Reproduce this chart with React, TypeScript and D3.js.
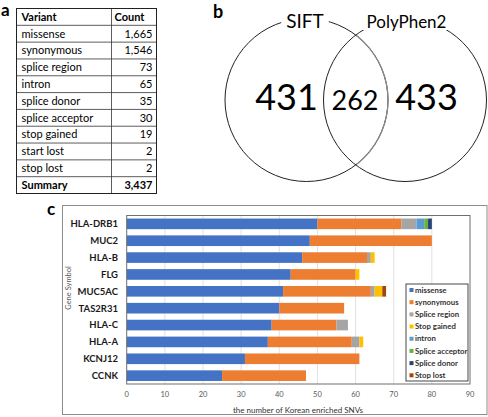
import * as d3 from "d3";
import { useEffect, useRef } from "react";

// panel a: variant table
const variants = [
  "missense",
  "synonymous",
  "splice region",
  "intron",
  "splice donor",
  "splice acceptor",
  "stop gained",
  "start lost",
  "stop lost",
];
const counts = ["1,665", "1,546", "73", "65", "35", "30", "19", "2", "2"];
const summaryCount = "3,437";

// panel b: venn
const siftOnly = 431;
const shared = 262;
const polyOnly = 433;

// panel c: stacked bars
const genes = [
  "HLA-DRB1",
  "MUC2",
  "HLA-B",
  "FLG",
  "MUC5AC",
  "TAS2R31",
  "HLA-C",
  "HLA-A",
  "KCNJ12",
  "CCNK",
];
const missense = [50, 48, 46, 43, 41, 40, 38, 37, 31, 25];
const synonymous = [22, 32, 17, 17, 23, 17, 17, 22, 30, 22];
const spliceRegion = [4, 0, 1, 0, 1, 0, 3, 2, 0, 0];
const stopGained = [0, 0, 1, 1, 2, 0, 0, 1, 0, 0];
const intron = [2, 0, 0, 0, 0, 0, 0, 0, 0, 0];
const spliceAcceptor = [1, 0, 0, 0, 0, 0, 0, 0, 0, 0];
const spliceDonor = [1, 0, 0, 0, 0, 0, 0, 0, 0, 0];
const stopLost = [0, 0, 0, 0, 1, 0, 0, 0, 0, 0];

const seriesNames = [
  "missense",
  "synonymous",
  "Splice region",
  "Stop gained",
  "intron",
  "Splice acceptor",
  "Splice donor",
  "Stop lost",
];
const seriesValues = [
  missense,
  synonymous,
  spliceRegion,
  stopGained,
  intron,
  spliceAcceptor,
  spliceDonor,
  stopLost,
];
const seriesColors = [
  "#4472C4",
  "#ED7D31",
  "#A5A5A5",
  "#FFC000",
  "#5B9BD5",
  "#70AD47",
  "#264478",
  "#9E480E",
];
const xTicks = [0, 10, 20, 30, 40, 50, 60, 70, 80, 90];

const FONT = "Lato, 'Open Sans', sans-serif";

export default function App() {
  const svgRef = useRef<SVGSVGElement>(null);

  useEffect(() => {
    if (!svgRef.current) return;
    const svg = d3.select(svgRef.current);
    svg.selectAll("*").remove();
    svg.style("font-family", FONT);

    // ---------- a: table ----------
    const ta = svg.append("g");
    ta.append("text")
      .attr("x", 1)
      .attr("y", 16)
      .style("font-size", "17px")
      .style("font-weight", "bold")
      .text("a");

    const rows = [["Variant", "Count"], ...variants.map((v, i) => [v, counts[i]]), ["Summary", summaryCount]];
    const rowY = d3
      .scaleBand<number>()
      .domain(d3.range(rows.length))
      .range([8.5, 193.5]);
    const tLeft = 16.5;
    const tMid = 111.5;
    const tRight = 156.5;

    rows.forEach((r, i) => {
      const y = rowY(i)! + rowY.bandwidth() / 2;
      const bold = i === 0 || i === rows.length - 1;
      ta.append("text")
        .attr("x", tLeft + 5)
        .attr("y", y)
        .attr("dy", "0.35em")
        .style("font-size", "11px")
        .style("font-weight", bold ? "bold" : "normal")
        .text(r[0]);
      ta.append("text")
        .attr("x", i === 0 ? tMid + 3 : tRight - 4)
        .attr("y", y)
        .attr("dy", "0.35em")
        .attr("text-anchor", i === 0 ? "start" : "end")
        .style("font-size", "11px")
        .style("font-weight", bold ? "bold" : "normal")
        .text(r[1]);
      if (i > 0) {
        ta.append("line")
          .attr("x1", tLeft)
          .attr("x2", tRight)
          .attr("y1", rowY(i)!)
          .attr("y2", rowY(i)!)
          .attr("stroke", "#333")
          .attr("stroke-width", 0.8);
      }
    });
    ta.append("line")
      .attr("x1", tMid)
      .attr("x2", tMid)
      .attr("y1", 8.5)
      .attr("y2", 193.5)
      .attr("stroke", "#333")
      .attr("stroke-width", 0.8);
    ta.append("rect")
      .attr("x", tLeft)
      .attr("y", 8.5)
      .attr("width", tRight - tLeft)
      .attr("height", 185)
      .attr("fill", "none")
      .attr("stroke", "#222")
      .attr("stroke-width", 1);

    // ---------- b: venn ----------
    const vb = svg.append("g");
    vb.append("text")
      .attr("x", 213)
      .attr("y", 18)
      .style("font-size", "18px")
      .style("font-weight", "bold")
      .text("b");

    const r = 81.5;
    const c1 = { x: 306.5, y: 100 };
    const c2 = { x: 405, y: 100 };
    const defs = svg.append("defs");
    defs
      .append("clipPath")
      .attr("id", "inside-right")
      .append("circle")
      .attr("cx", c2.x)
      .attr("cy", c2.y)
      .attr("r", r);

    vb.append("circle")
      .attr("cx", c1.x)
      .attr("cy", c1.y)
      .attr("r", r)
      .attr("fill", "none")
      .attr("stroke", "#222")
      .attr("stroke-width", 1);
    vb.append("circle")
      .attr("cx", c1.x)
      .attr("cy", c1.y)
      .attr("r", r)
      .attr("fill", "none")
      .attr("stroke", "#8a8a8a")
      .attr("stroke-width", 1.3)
      .attr("clip-path", "url(#inside-right)");
    vb.append("circle")
      .attr("cx", c2.x)
      .attr("cy", c2.y)
      .attr("r", r)
      .attr("fill", "none")
      .attr("stroke", "#222")
      .attr("stroke-width", 1);

    const labels = [
      { t: "SIFT", x: 305, size: 19 },
      { t: "PolyPhen2", x: 406.5, size: 17 },
    ];
    labels.forEach((l) => {
      const txt = vb
        .append("text")
        .attr("x", l.x)
        .attr("y", 28)
        .attr("text-anchor", "middle")
        .style("font-size", `${l.size}px`)
        .text(l.t);
      const bb = (txt.node() as SVGTextElement).getBBox();
      vb.insert("rect", "text:last-of-type")
        .attr("x", bb.x - 5)
        .attr("y", bb.y + 2)
        .attr("width", bb.width + 10)
        .attr("height", bb.height - 4)
        .attr("fill", "white");
    });

    const nums = [
      { v: siftOnly, x: 286.5, size: 36 },
      { v: shared, x: 355, size: 27 },
      { v: polyOnly, x: 426.5, size: 36 },
    ];
    nums.forEach((n) => {
      vb.append("text")
        .attr("x", n.x)
        .attr("y", 110)
        .attr("text-anchor", "middle")
        .style("font-size", `${n.size}px`)
        .text(n.v);
    });

    // ---------- c: stacked bar chart ----------
    const gc = svg.append("g");
    gc.append("text")
      .attr("x", 47)
      .attr("y", 215)
      .style("font-size", "17px")
      .style("font-weight", "bold")
      .text("c");

    gc.append("rect")
      .attr("x", 62.5)
      .attr("y", 205.5)
      .attr("width", 424.5)
      .attr("height", 209)
      .attr("fill", "white")
      .attr("stroke", "#8c8c8c")
      .attr("stroke-width", 1);

    const plot = { left: 126.7, right: 470, top: 215.5, bottom: 384 };
    const x = d3.scaleLinear().domain([0, 90]).range([plot.left, plot.right]);
    const y = d3
      .scaleBand<string>()
      .domain(genes)
      .range([plot.top, plot.bottom])
      .paddingInner(0.37)
      .paddingOuter(0.18);

    // gridlines
    gc.selectAll("line.grid")
      .data(xTicks.slice(1, -1))
      .enter()
      .append("line")
      .attr("class", "grid")
      .attr("x1", (d) => x(d))
      .attr("x2", (d) => x(d))
      .attr("y1", plot.top)
      .attr("y2", plot.bottom)
      .attr("stroke", "#d9d9d9")
      .attr("stroke-width", 0.8);

    const table = genes.map((g, i) => {
      const row: Record<string, number | string> = { gene: g };
      seriesNames.forEach((s, k) => (row[s] = seriesValues[k][i]));
      return row;
    });
    const stack = d3.stack<Record<string, number | string>>().keys(seriesNames);
    const layers = stack(table as any);

    gc.selectAll("g.layer")
      .data(layers)
      .enter()
      .append("g")
      .attr("class", "layer")
      .attr("fill", (_, k) => seriesColors[k])
      .selectAll("rect")
      .data((d) => d.filter((p) => p[1] - p[0] > 0))
      .enter()
      .append("rect")
      .attr("x", (d) => x(d[0]))
      .attr("width", (d) => x(d[1]) - x(d[0]))
      .attr("y", (d) => y(d.data.gene as string)!)
      .attr("height", y.bandwidth());

    // plot area border
    gc.append("rect")
      .attr("x", plot.left)
      .attr("y", plot.top)
      .attr("width", plot.right - plot.left)
      .attr("height", plot.bottom - plot.top)
      .attr("fill", "none")
      .attr("stroke", "#6f6f6f")
      .attr("stroke-width", 1);

    // x axis labels
    gc.selectAll("text.xtick")
      .data(xTicks)
      .enter()
      .append("text")
      .attr("class", "xtick")
      .attr("x", (d) => x(d))
      .attr("y", 394)
      .attr("dy", "0.35em")
      .attr("text-anchor", "middle")
      .attr("fill", "#595959")
      .style("font-size", "7.5px")
      .text((d) => d);

    // y axis labels
    gc.selectAll("text.ytick")
      .data(genes)
      .enter()
      .append("text")
      .attr("class", "ytick")
      .attr("x", 118)
      .attr("y", (d) => y(d)! + y.bandwidth() / 2)
      .attr("dy", "0.35em")
      .attr("text-anchor", "end")
      .attr("fill", "#1a1a1a")
      .style("font-size", "9.5px")
      .style("font-weight", "bold")
      .text((d) => d);

    gc.append("text")
      .attr("transform", "translate(68,288) rotate(-90)")
      .attr("text-anchor", "middle")
      .attr("dy", "0.35em")
      .attr("fill", "#595959")
      .style("font-size", "7.5px")
      .text("Gene Symbol");

    gc.append("text")
      .attr("x", 298)
      .attr("y", 410)
      .attr("text-anchor", "middle")
      .attr("dy", "0.35em")
      .attr("fill", "#333")
      .style("font-size", "8px")
      .text("the number of Korean enriched SNVs");

    // legend
    const lg = gc.append("g");
    lg.append("rect")
      .attr("x", 406)
      .attr("y", 284)
      .attr("width", 62)
      .attr("height", 97)
      .attr("fill", "white")
      .attr("stroke", "#333")
      .attr("stroke-width", 0.9);
    const ly = d3
      .scalePoint<string>()
      .domain(seriesNames)
      .range([290, 375.3]);
    seriesNames.forEach((s, k) => {
      lg.append("rect")
        .attr("x", 409.5)
        .attr("y", ly(s)! - 2)
        .attr("width", 4)
        .attr("height", 4)
        .attr("fill", seriesColors[k]);
      lg.append("text")
        .attr("x", 415)
        .attr("y", ly(s)!)
        .attr("dy", "0.35em")
        .attr("fill", "#333")
        .style("font-size", "7.8px")
        .style("font-weight", "bold")
        .text(s);
    });
  }, []);

  return (
    <div style={{ position: "absolute", left: 0, top: 0 }}>
      <svg ref={svgRef} width={488} height={417} style={{ display: "block" }} />
    </div>
  );
}
